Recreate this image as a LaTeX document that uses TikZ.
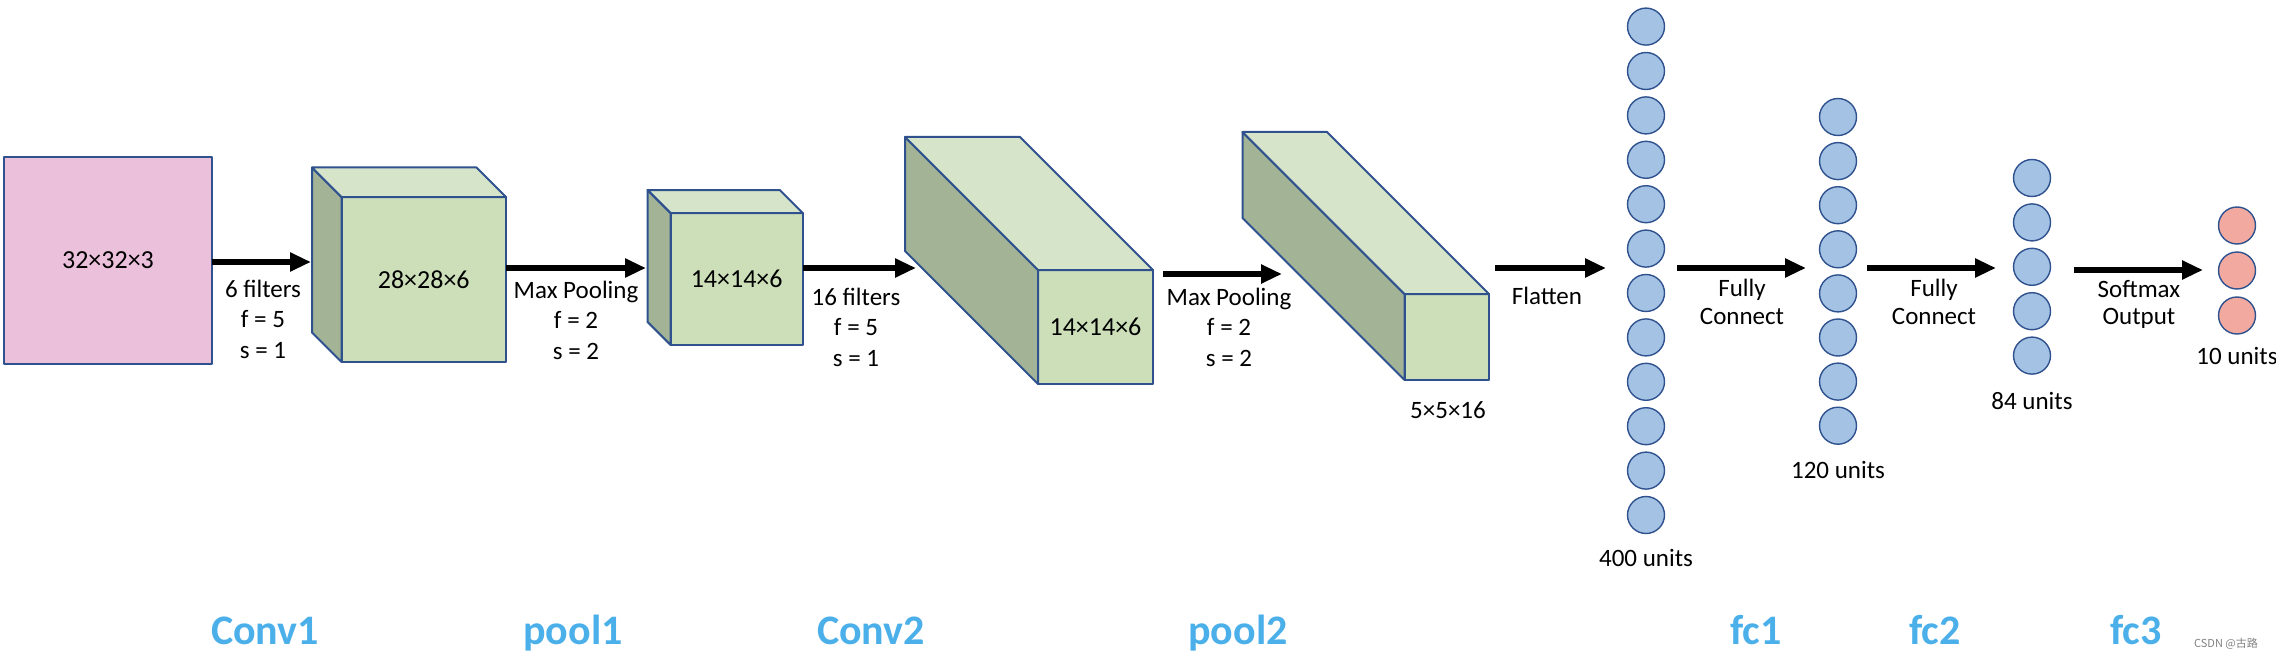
\documentclass[tikz,border=0pt]{standalone}
\usepackage{fontspec}
\setmainfont{Carlito}
\newfontfamily\cjk{Noto Sans CJK SC}
\usetikzlibrary{arrows.meta,positioning}

\definecolor{edgeblue}{RGB}{47,82,143}
\definecolor{inpink}{RGB}{235,192,219}
\definecolor{frontgreen}{RGB}{204,223,185}
\definecolor{topgreen}{RGB}{214,229,201}
\definecolor{sidegreen}{RGB}{162,180,149}
\definecolor{unitblue}{RGB}{164,194,228}
\definecolor{unitred}{RGB}{242,170,160}
\definecolor{stageblue}{RGB}{75,175,234}

\tikzset{
  face/.style={draw=edgeblue, line width=2pt, line join=round},
  front/.style={face, fill=frontgreen, inner sep=0pt, outer sep=0pt,
    font=\fontsize{26}{30}\selectfont},
  unit/.style={circle, draw=edgeblue, line width=1.4pt, fill=unitblue,
    minimum size=37pt, inner sep=0pt},
  outunit/.style={unit, fill=unitred},
  lbl/.style={align=center, inner sep=0pt, font=\fontsize{25}{30.5}\selectfont},
  units/.style={inner sep=0pt, font=\fontsize{25}{28}\selectfont},
  stage/.style={inner sep=0pt, text=stageblue, font=\fontsize{42}{42}\selectfont\bfseries},
  flow/.style={-{Triangle[length=21pt,width=18pt]}, line width=6.5pt}
}

% feature map: name, x, y, width, height, depth, text
\newcommand{\fmap}[7]{%
  \node[front, minimum width=#4pt, minimum height=#5pt] (#1) at (#2,#3) {#7};
  \draw[face, fill=sidegreen] (#1.north west) -- ++(-#6,-#6) -- ++(0,#5) -- (#1.south west) -- cycle;
  \draw[face, fill=topgreen] (#1.north west) -- ++(-#6,-#6) -- ++(#4,0) -- (#1.north east) -- cycle;
}

\begin{document}
\begin{tikzpicture}[x=1pt,y=-1pt]
\useasboundingbox (0,0) rectangle (2276,658);

% input and feature maps
\node[face, fill=inpink, minimum width=208pt, minimum height=207pt, inner sep=0pt, outer sep=0pt,
  font=\fontsize{26}{30}\selectfont] (in) at (108,260.5) {32×32×3};
\fmap{c1}{423.75}{279.5}{164.5}{165}{29.5}{28×28×6}
\fmap{c2}{736.7}{279}{132.2}{132}{23}{14×14×6}
\fmap{c3}{1095.5}{327}{115}{114}{133}{14×14×6}
\fmap{c4}{1446.75}{337}{84.5}{86}{162}{}
\node[units] (c4-t) at (1448,410) {5×5×16};

% fully connected layers
\foreach \i in {1,...,12}
  \node[unit] (fa-\i) at (1646,{26.6+44.4*(\i-1)}) {};
\foreach \i in {1,...,8}
  \node[unit] (fb-\i) at (1838,{117+44.1*(\i-1)}) {};
\foreach \i in {1,...,5}
  \node[unit] (fc-\i) at (2032,{178+44.4*(\i-1)}) {};
\foreach \i in {1,...,3}
  \node[outunit] (out-\i) at (2237,{225.5+45*(\i-1)}) {};

\node[units, below=15pt of fa-12] (fa-t) {400 units};
\node[units, below=16pt of fb-8] (fb-t) {120 units};
\node[units, below=17pt of fc-5] (fc-t) {84 units};
\node[units, below=12pt of out-3] (out-t) {10 units};

% arrows
\coordinate (e1) at (311,262);
\coordinate (e2) at (646,268);
\coordinate (e3) at (916,268);
\coordinate (e4) at (1282,274);
\coordinate (e5) at (1606,268);
\coordinate (e6) at (1806,268);
\coordinate (e7) at (1996,268);
\coordinate (e8) at (2203,270);
\draw[flow] (in.east |- e1) -- (e1);
\draw[flow] (c1.east |- e2) -- (e2);
\draw[flow] (c2.east |- e3) -- (e3);
\draw[flow] ([xshift=10pt]c3.east |- e4) -- (e4);
\draw[flow] ([xshift=6pt]c4.east |- e5) -- (e5);
\draw[flow] ([xshift=12pt]fa-1.east |- e6) -- (e6);
\draw[flow] ([xshift=10pt]fb-1.east |- e7) -- (e7);
\draw[flow] ([xshift=23pt]fc-1.east |- e8) -- (e8);

\node[lbl, anchor=north] (l1) at (263,279.5) {6 filters\\f = 5\\s = 1};
\node[lbl, anchor=north] (l2) at (576,280.5) {Max Pooling\\f = 2\\s = 2};
\node[lbl, anchor=north] (l3) at (856,287.5) {16 filters\\f = 5\\s = 1};
\node[lbl, anchor=north] (l4) at (1229,287.5) {Max Pooling\\f = 2\\s = 2};
\node[lbl, anchor=north] (l5) at (1547,286.5) {Flatten};
\node[lbl, anchor=north, font=\fontsize{25}{28}\selectfont] (l6) at (1742,278.5) {Fully\\Connect};
\node[lbl, anchor=north, font=\fontsize{25}{28}\selectfont] (l7) at (1934,278.5) {Fully\\Connect};
\node[lbl, anchor=north, font=\fontsize{25}{27}\selectfont] (l8) at (2139,280.5) {Softmax\\Output};

% stage names
\foreach \x/\t in {265/Conv1, 573/pool1, 871/Conv2, 1238/pool2, 1756/fc1, 1935/fc2, 2136/fc3}
  \node[stage, anchor=base] (s-\t) at (\x,644) {\t};
\node[anchor=base, inner sep=0pt, text=black!50, font=\fontsize{11}{11}\selectfont] (mark) at (2226,647) {\cjk CSDN @古路};
\end{tikzpicture}
\end{document}
